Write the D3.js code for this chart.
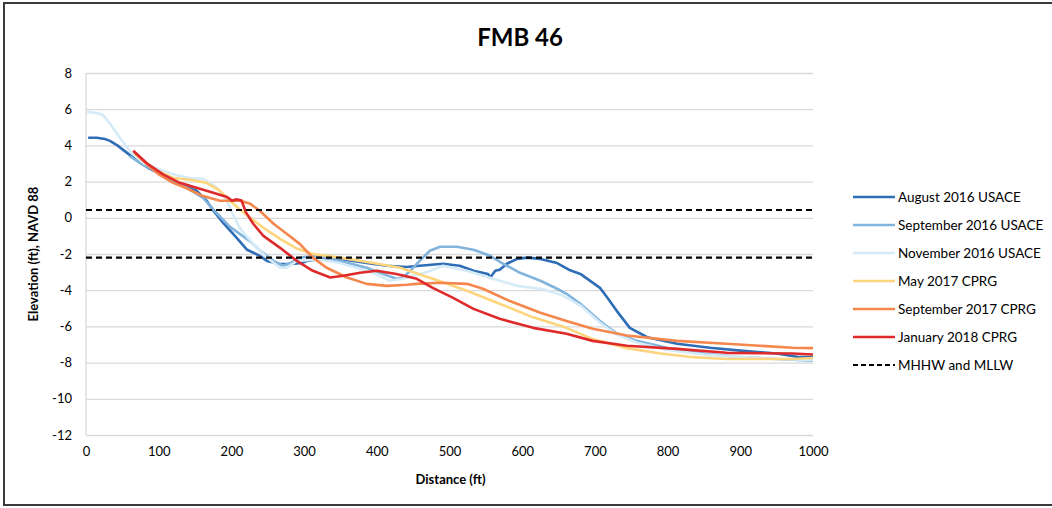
<!DOCTYPE html>
<html>
<head>
<meta charset="utf-8">
<script src="https://cdn.jsdelivr.net/npm/d3@7"></script>
<style>
  body { margin: 0; background: #fff; }
  text { font-family: Lato, "Open Sans", sans-serif; fill: #000; }
  .grid line { stroke: #d9d9d9; stroke-width: 1.3; }
  .axis path, .axis line { stroke: none; }
</style>
</head>
<body>
<div class="chartContainer"></div>
<script>
// series values: [distance ft, elevation ft]
const aug2016 = [[3,4.42],[15,4.42],[26,4.35],[33,4.25],[43,4.0],[56,3.6],[72,3.1],[88,2.7],[106,2.35],[120,2.1],
  [129,1.85],[152,1.5],[166,0.95],[175,0.4],[189,-0.3],[207,-1.1],[221,-1.75],[239,-2.1],[249,-2.38],[267,-2.55],
  [281,-2.55],[297,-2.5],[304,-2.38],[322,-2.27],[349,-2.27],[386,-2.5],[414,-2.65],[441,-2.72],[459,-2.65],
  [491,-2.54],[514,-2.65],[533,-2.93],[553,-3.1],[556,-3.3],[563,-2.93],[569,-2.87],[579,-2.54],[593,-2.27],
  [607,-2.2],[625,-2.27],[648,-2.5],[666,-2.9],[680,-3.1],[707,-3.87],[717,-4.4],[730,-5.14],[748,-6.08],
  [772,-6.6],[813,-6.96],[858,-7.18],[904,-7.35],[950,-7.5],[982,-7.7],[1000,-7.7]];
const sep2016 = [[60,3.4],[80,2.9],[100,2.5],[129,1.9],[161,1.1],[180,0.25],[198,-0.5],[212,-0.9],[226,-1.3],
  [239,-1.8],[258,-2.38],[271,-2.65],[281,-2.5],[294,-2.2],[318,-2.1],[349,-2.38],[386,-2.76],[409,-3.1],
  [427,-3.37],[436,-3.3],[446,-2.93],[459,-2.38],[473,-1.82],[487,-1.6],[510,-1.6],[533,-1.77],[556,-2.1],
  [574,-2.54],[597,-3.04],[625,-3.48],[648,-3.92],[661,-4.2],[680,-4.75],[707,-5.7],[730,-6.4],[758,-6.8],
  [800,-7.2],[850,-7.5],[900,-7.7],[950,-7.8],[1000,-7.9]];
const nov2016 = [[0,5.85],[12,5.8],[23,5.7],[33,5.2],[47,4.4],[60,3.7],[80,3.0],[106,2.6],[125,2.35],[143,2.2],
  [161,2.15],[172,1.9],[180,1.66],[194,0.94],[202,0.2],[212,-0.6],[230,-1.44],[249,-2.2],[267,-2.76],[276,-2.76],
  [290,-2.38],[320,-2.3],[349,-2.5],[395,-3.04],[418,-3.48],[436,-3.37],[450,-3.2],[469,-3.0],[491,-2.65],
  [524,-2.93],[560,-3.37],[593,-3.76],[629,-3.95],[656,-4.3],[680,-4.85],[707,-5.8],[730,-6.45],[758,-6.9],
  [800,-7.3],[850,-7.55],[900,-7.7],[950,-7.8],[1000,-7.85]];
const may2017 = [[68,3.5],[84,3.0],[98,2.6],[120,2.2],[143,2.1],[166,1.93],[184,1.5],[198,0.94],[212,0.45],
  [226,0],[244,-0.55],[267,-1.16],[290,-1.7],[312,-2.0],[349,-2.2],[395,-2.5],[432,-2.76],[477,-3.37],
  [524,-4.03],[569,-4.75],[615,-5.5],[661,-6.08],[697,-6.7],[744,-7.2],[790,-7.5],[835,-7.7],[881,-7.8],
  [972,-7.8],[1000,-7.75]];
const sep2017 = [[66,3.65],[84,2.95],[100,2.4],[120,1.93],[139,1.62],[161,1.2],[184,0.94],[202,0.94],[212,0.94],
  [226,0.77],[239,0.39],[258,-0.33],[276,-0.88],[294,-1.44],[312,-2.2],[331,-2.76],[359,-3.3],[386,-3.65],
  [414,-3.76],[441,-3.7],[455,-3.65],[487,-3.59],[524,-3.65],[546,-3.92],[583,-4.6],[625,-5.25],[661,-5.7],
  [697,-6.13],[744,-6.5],[813,-6.8],[881,-6.96],[972,-7.18],[1000,-7.2]];
const jan2018 = [[65,3.7],[84,3.0],[106,2.4],[129,1.93],[152,1.66],[175,1.38],[194,1.15],[201,0.94],[207,1.02],
  [214,0.95],[220,0.3],[230,-0.33],[244,-1.0],[267,-1.66],[290,-2.38],[312,-2.93],[336,-3.3],[354,-3.2],
  [377,-3.04],[400,-2.93],[427,-3.1],[455,-3.37],[477,-3.87],[505,-4.42],[533,-5.03],[569,-5.58],[615,-6.08],
  [661,-6.41],[697,-6.8],[744,-7.07],[813,-7.24],[881,-7.46],[972,-7.5],[1000,-7.55]];

const seriesNames = ['August 2016 USACE', 'September 2016 USACE', 'November 2016 USACE',
                     'May 2017 CPRG', 'September 2017 CPRG', 'January 2018 CPRG'];
const seriesData = [aug2016, sep2016, nov2016, may2017, sep2017, jan2018];
const seriesColors = ['#2f6db6', '#82b4dc', '#d5ebf7', '#fdd57c', '#f5874c', '#df2a2b'];

// tidal datums (MHHW, MLLW)
const datumLevels = [0.43, -2.2];
const datumLabel = 'MHHW and MLLW';

const xTicks = [0, 100, 200, 300, 400, 500, 600, 700, 800, 900, 1000];
const yTicks = [8, 6, 4, 2, 0, -2, -4, -6, -8, -10, -12];

function drawChart() {
  const W = 1052, H = 508;
  const margin = { top: 73, right: 239, bottom: 73, left: 86 },
    width = W - margin.left - margin.right,
    height = H - margin.top - margin.bottom;

  const svg = d3.select(".chartContainer").append("svg")
    .attr("width", W).attr("height", H);

  // outer frame
  svg.append("rect")
    .attr("x", 4).attr("y", 3).attr("width", W + 4).attr("height", 502)
    .attr("fill", "none").attr("stroke", "#3a3a3a").attr("stroke-width", 2);

  const g = svg.append("g")
    .attr("transform", "translate(" + margin.left + "," + margin.top + ")");

  const x = d3.scaleLinear().domain([0, 1000]).range([0, width]);
  const y = d3.scaleLinear().domain([-12, 8]).range([height, 0]);

  // plain hyphen labels, no thousands separator
  const plain = d => String(d);

  // horizontal grid
  g.append("g").attr("class", "grid")
    .call(d3.axisLeft(y).tickValues(yTicks).tickSize(-width).tickFormat(""))
    .call(s => s.select(".domain").remove());

  // y axis line
  g.append("line").attr("x1", 0).attr("x2", 0).attr("y1", 0).attr("y2", height)
    .attr("stroke", "#d9d9d9").attr("stroke-width", 1.3);

  g.append("g").attr("class", "axis")
    .call(d3.axisLeft(y).tickValues(yTicks).tickFormat(plain).tickSize(0).tickPadding(14))
    .selectAll("text").style("font-size", "13px");

  g.append("g").attr("class", "axis")
    .attr("transform", "translate(0," + height + ")")
    .call(d3.axisBottom(x).tickValues(xTicks).tickFormat(plain).tickSize(0).tickPadding(12))
    .selectAll("text").style("font-size", "13px");

  const line = d3.line()
    .x(d => x(d[0]))
    .y(d => y(d[1]));

  seriesData.forEach(function (data, i) {
    g.append("path")
      .datum(data)
      .attr("fill", "none")
      .attr("stroke", seriesColors[i])
      .attr("stroke-width", 2.6)
      .attr("stroke-linejoin", "round")
      .attr("d", line);
  });

  // datum lines
  g.selectAll(".datum")
    .data(datumLevels)
    .enter()
    .append("line")
    .attr("class", "datum")
    .attr("x1", 0).attr("x2", width)
    .attr("y1", d => y(d)).attr("y2", d => y(d))
    .attr("stroke", "#000").attr("stroke-width", 2.2)
    .attr("stroke-dasharray", "6,4");

  // title and axis titles
  svg.append("text")
    .attr("x", 520).attr("y", 46)
    .attr("text-anchor", "middle")
    .style("font-size", "24px").style("font-weight", "bold")
    .text("FMB 46");

  svg.append("text")
    .attr("x", margin.left + width / 2 + 1).attr("y", 484)
    .attr("text-anchor", "middle")
    .style("font-size", "13px").style("font-weight", "bold")
    .text("Distance (ft)");

  svg.append("text")
    .attr("transform", "translate(38," + (margin.top + height / 2) + ") rotate(-90)")
    .attr("text-anchor", "middle")
    .style("font-size", "13px").style("font-weight", "bold")
    .text("Elevation (ft), NAVD 88");

  // legend
  const legendNames = seriesNames.concat([datumLabel]);
  const legend = svg.append("g").attr("transform", "translate(853,197)");
  legendNames.forEach(function (name, i) {
    const row = legend.append("g").attr("transform", "translate(0," + (i * 28) + ")");
    const isDatum = i === seriesNames.length;
    row.append("line")
      .attr("x1", 0).attr("x2", 42).attr("y1", 0).attr("y2", 0)
      .attr("stroke", isDatum ? "#000" : seriesColors[i])
      .attr("stroke-width", isDatum ? 2 : 2.6)
      .attr("stroke-dasharray", isDatum ? "5,3" : null);
    row.append("text")
      .attr("x", 45).attr("y", 5)
      .style("font-size", "13.5px")
      .text(name);
  });
}

window.addEventListener("load", () => {
  drawChart();
});
</script>
</body>
</html>
